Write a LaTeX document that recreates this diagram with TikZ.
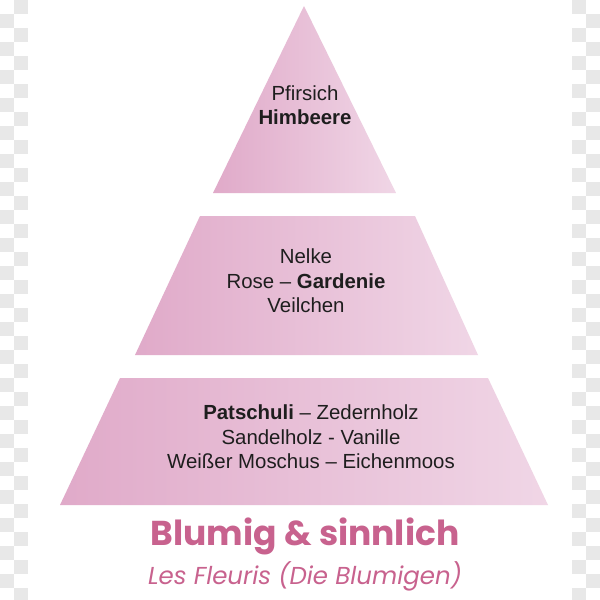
\documentclass[tikz,border=0pt]{standalone}
\usepackage{fontspec}
\setmainfont{Liberation Sans}
\newfontfamily\titlefont{Poppins}
\definecolor{pinkL}{RGB}{224,170,201}
\definecolor{pinkR}{RGB}{240,214,230}
\definecolor{titlepink}{RGB}{200,98,142}
\definecolor{checkgray}{RGB}{232,232,232}
\definecolor{txt}{RGB}{30,30,30}
\tikzset{
  level/.style={left color=pinkL,right color=pinkR,draw=none},
  label/.style={align=center,font=\fontsize{20.4}{24.5}\selectfont,text=txt,inner sep=0pt},
  sq/.style={fill=checkgray,draw=none}
}
\begin{document}
\begin{tikzpicture}[x=1pt,y=-1pt]
\useasboundingbox (0,0) rectangle (600,600);
\fill[white] (0,0) rectangle (600,600);
% watermark checker at edges
\foreach \i in {0,2,...,42}{
  \fill[sq] (14,{14*\i}) rectangle (28,{14*\i+14});
  \fill[sq] (0,{14*\i+14}) rectangle (14,{14*\i+28});
  \fill[sq] (572,{14*\i}) rectangle (586,{14*\i+14});
  \fill[sq] (586,{14*\i+14}) rectangle (600,{14*\i+28});
}
% levels
\path[level] (304,6) -- (396,193) -- (213,193) -- cycle;
\path[level] (200,216) -- (415,216) -- (478,355) -- (135,355) -- cycle;
\path[level] (120,378) -- (488,378) -- (548,505) -- (60,505) -- cycle;
% texts
\node[label] (top) at (305,105) {Pfirsich\\\textbf{Himbeere}};
\node[label] (mid) at (306,281) {Nelke\\Rose -- \textbf{Gardenie}\\Veilchen};
\node[label] (bot) at (311,437) {\textbf{Patschuli} -- Zedernholz\\Sandelholz - Vanille\\Weißer Moschus -- Eichenmoos};
\node[inner sep=0pt,text=titlepink,font=\titlefont\bfseries\fontsize{34.5}{36}\selectfont] (title) at (305,536) {Blumig \& sinnlich};
\node[inner sep=0pt,text=titlepink,font=\titlefont\itshape\fontsize{24.5}{26}\selectfont] (sub) at (305,576) {Les Fleuris (Die Blumigen)};
\end{tikzpicture}
\end{document}
